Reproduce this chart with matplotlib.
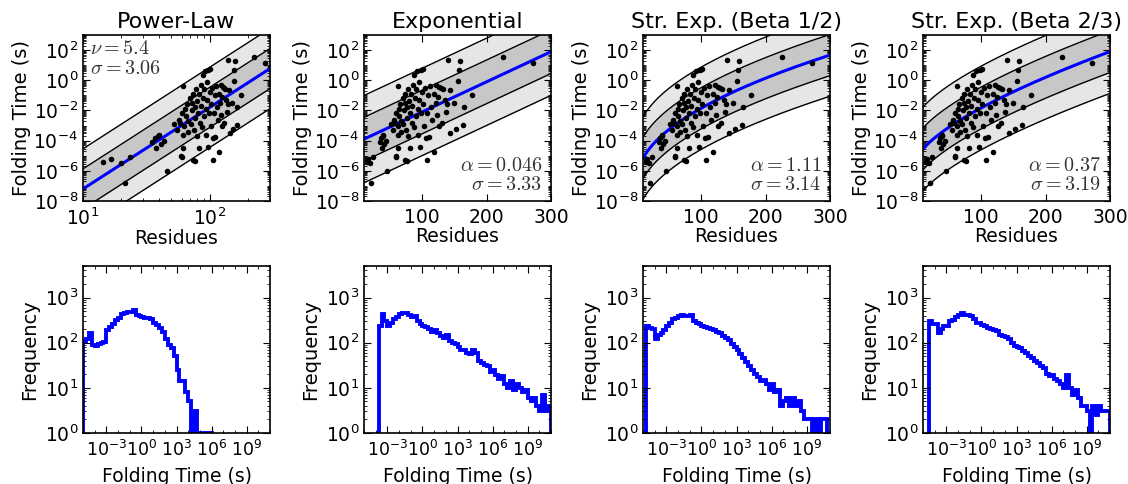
import numpy as np
import matplotlib
matplotlib.use('Agg')
import matplotlib.pyplot as plt
from matplotlib.ticker import FixedLocator, LogLocator, NullFormatter, NullLocator

# measured folding times (log10 of seconds) vs chain length
residues = [16.5, 20, 23.5, 21.5, 14.5,
            35, 37, 39, 40, 41, 38, 44,
            46, 59, 60, 62, 74, 76,
            52, 55, 57, 58, 60, 62, 62, 63, 64, 65, 66, 67, 68, 70, 71, 72, 73, 74,
            75, 76, 77, 78, 79, 80, 81, 82, 83, 84, 85, 86, 87, 88, 89, 90, 91, 92,
            93, 94, 95, 96, 97, 98, 99, 100, 101, 102, 103, 105, 106, 107, 108, 110,
            111, 112, 114, 116, 118, 119, 121, 123, 125, 127, 129, 131, 133, 135,
            141, 159, 225, 272, 157, 156, 177, 165, 152, 164, 144, 150, 143, 139,
            126, 137, 122]
log_fold_time = [-5.2, -5.5, -5.1, -6.8, -5.4,
                 -4.1, -3.8, -3.7, -3.6, -4.2, -4.5, -4.0,
                 -6.0, -5.05, -5.1, -4.5, -5.3, -5.35,
                 -2.9, -3.3, -2.6, -2.8, -2.2, -0.4, -3.6, -3.0, -1.9, -2.4, -1.6, -3.4,
                 -2.7, -1.2, -2.9, -2.0, -1.5, -0.9,
                 -3.3, -1.8, -2.5, -0.6, -3.7, -1.4, -2.2, -4.5, -0.9, -2.8, -1.7, -0.3,
                 -3.1, 0.35, -1.2, -2.4, -0.6, 0.6,
                 -1.9, -3.6, -0.1, -1.3, -4.4, 0.7, -2.2, -0.8, 0.75, -1.6, -3.0, -0.5,
                 -3.85, -5.3, -2.2, -1.0,
                 -3.75, -0.4, -1.8, -2.6, -4.75, -0.9, -1.5, -2.3, -1.1, -0.45, -0.5,
                 -2.8, -0.6, -1.3,
                 1.35, 1.3, 1.55, 1.15, 0.65, -0.05, -1.0, -1.8, -3.2, -2.95, -3.5,
                 -1.5, -0.65, -1.6,
                 -3.0, -2.1, -0.3]

titles = ['Power-Law', 'Exponential', 'Str. Exp. (Beta 1/2)', 'Str. Exp. (Beta 2/3)']
fit_param = [5.4, 0.046, 1.11, 0.37]
fit_sigma = [3.06, 3.33, 3.14, 3.19]
fit_offset = [-12.6, -4.1, -6.68, -5.3]
param_text = [r'$\nu=5.4$', r'$\alpha=0.046$', r'$\alpha=1.11$', r'$\alpha=0.37$']
sigma_text = [r'$\sigma=3.06$', r'$\sigma=3.33$', r'$\sigma=3.14$', r'$\sigma=3.19$']

# histograms of predicted folding times, bins of 0.25 decade from 1e-5 to 1e11
hist_edges = np.arange(-5, 11.01, 0.25)
hist_powerlaw = [110, 120, 160, 90, 85, 95, 100, 105, 190, 220, 260, 320, 360, 440, 450, 470,
                 480, 520, 420, 400, 370, 360, 350, 330, 270, 250, 210, 170, 120, 90, 75, 50,
                 25, 14, 14, 8, 5, 1, 3, 1, 1, 1, 1, 1, 0, 0, 0, 0,
                 0, 0, 0, 0, 0, 0, 0, 0, 0, 0, 0, 0, 0, 0, 0, 0]
hist_exponential = [0, 0, 0, 0, 0, 240, 440, 300, 240, 280, 330, 380, 430, 460, 460, 420,
                    380, 390, 300, 260, 240, 220, 200, 170, 190, 160, 140, 130, 150, 110, 100, 95,
                    80, 70, 68, 60, 55, 70, 60, 40, 35, 32, 30, 22, 25, 19, 16, 18,
                    12, 10, 14, 9, 12, 10, 8, 9, 6, 5, 6, 4, 3, 7, 3, 4]
hist_strexp_half = [0, 230, 210, 200, 120, 150, 160, 190, 240, 280, 330, 360, 400, 410, 390, 400,
                    410, 300, 280, 260, 240, 220, 210, 200, 190, 170, 160, 140, 130, 115, 95, 80,
                    70, 55, 45, 38, 30, 25, 20, 17, 14, 15, 12, 9, 12, 8, 9, 4,
                    5, 6, 4, 6, 4, 5, 3, 2, 2, 2, 1, 2, 1, 2, 2, 0]
hist_strexp_twothirds = [0, 0, 300, 260, 260, 160, 200, 230, 240, 300, 320, 370, 420, 460, 420, 410,
                         400, 330, 280, 270, 250, 230, 210, 200, 190, 180, 150, 140, 135, 120, 100, 85,
                         80, 78, 65, 60, 50, 45, 40, 35, 30, 27, 20, 18, 19, 16, 14, 12,
                         10, 19, 10, 7, 9, 6, 4, 4, 3, 1, 4, 2.5, 4, 3, 3, 3]
hist_counts = [hist_powerlaw, hist_exponential, hist_strexp_half, hist_strexp_twothirds]

plt.rcParams['font.family'] = 'DejaVu Sans'
plt.rcParams['mathtext.fontset'] = 'dejavusans'
plt.rcParams['axes.unicode_minus'] = False
plt.rcParams['xtick.direction'] = 'in'
plt.rcParams['ytick.direction'] = 'in'
plt.rcParams['xtick.top'] = True
plt.rcParams['ytick.right'] = True


def model(k, n):
    if k == 0:
        return fit_param[0] * np.log10(n) + fit_offset[0]
    x = [n, n ** 0.5, n ** (2.0 / 3.0)][k - 1]
    return fit_param[k] / np.log(10) * x + fit_offset[k]


def style_ticks(ax, xsize=13.5):
    ax.tick_params(which='major', length=5, width=0.8, labelsize=13.5)
    ax.tick_params(axis='x', which='major', pad=5, labelsize=xsize)
    ax.tick_params(which='minor', length=2.5, width=0.6)
    for s in ax.spines.values():
        s.set_linewidth(1.2)


fig = plt.figure(figsize=(11.28, 4.84), dpi=100)
W, H = 1128.0, 484.0
lefts = [83, 364, 643, 923]
nn = np.linspace(10, 300, 400)
res = np.array(residues)
lt = np.array(log_fold_time)

for k in range(4):
    # ---- top row: folding time vs residues
    ax = fig.add_axes([lefts[k] / W, (H - 201) / H, 187 / W, 166 / H])
    m = model(k, nn)
    sd = fit_sigma[k] / np.log(10)
    ax.fill_between(nn, 10 ** (m - 2 * sd), 10 ** (m + 2 * sd), color='0.9', lw=0)
    ax.fill_between(nn, 10 ** (m - sd), 10 ** (m + sd), color='0.78', lw=0)
    for j in [-2, -1, 1, 2]:
        ax.plot(nn, 10 ** (m + j * sd), color='k', lw=1)
    ax.plot(nn, 10 ** m, color='#0000ff', lw=2.2)
    ax.plot(res, 10 ** lt, 'o', color='k', ms=4, mec='none')
    ax.set_yscale('log')
    ax.set_ylim(1e-8, 1e3)
    ax.yaxis.set_major_locator(FixedLocator([1e-8, 1e-6, 1e-4, 1e-2, 1e0, 1e2]))
    ax.yaxis.set_minor_locator(LogLocator(base=10, subs=np.arange(1, 10), numticks=100))
    ax.yaxis.set_minor_formatter(NullFormatter())
    if k == 0:
        ax.set_xscale('log')
        ax.set_xlim(10, 300)
        ax.xaxis.set_major_locator(FixedLocator([10, 100]))
        ax.xaxis.set_minor_locator(LogLocator(base=10, subs=np.arange(2, 10), numticks=100))
        ax.xaxis.set_minor_formatter(NullFormatter())
        ax.text(0.035, 0.975, param_text[k] + '\n' + sigma_text[k], transform=ax.transAxes,
                ha='left', va='top', fontsize=14.5, color='0.2', math_fontfamily='cm',
                linespacing=1.05)
    else:
        ax.set_xlim(10, 300)
        ax.xaxis.set_major_locator(FixedLocator([100, 200, 300]))
        ax.xaxis.set_minor_locator(NullLocator())
        ax.text(0.955, 0.04, param_text[k] + '\n' + sigma_text[k], transform=ax.transAxes,
                ha='right', va='bottom', fontsize=14.5, color='0.2', math_fontfamily='cm',
                linespacing=1.05)
    style_ticks(ax)
    ax.set_title(titles[k], fontsize=16, pad=5)
    ax.set_xlabel('Residues', fontsize=13.5, labelpad=0)
    ax.set_ylabel('Folding Time (s)', fontsize=14, labelpad=2)

    # ---- bottom row: histogram of folding times
    bx = fig.add_axes([lefts[k] / W, (H - 433) / H, 187 / W, 167 / H])
    counts = np.array(hist_counts[k], dtype=float)
    counts[counts <= 0] = 1e-3
    bx.stairs(counts, 10 ** hist_edges, baseline=1e-3, color='#0000ff', lw=2.8)
    bx.set_xscale('log')
    bx.set_yscale('log')
    bx.set_xlim(1e-5, 1e11)
    bx.set_ylim(1, 5000)
    bx.xaxis.set_major_locator(FixedLocator([1e-3, 1e0, 1e3, 1e6, 1e9]))
    bx.xaxis.set_minor_locator(LogLocator(base=10, subs=(1.0,), numticks=100))
    bx.xaxis.set_minor_formatter(NullFormatter())
    bx.yaxis.set_major_locator(FixedLocator([1, 10, 100, 1000]))
    bx.yaxis.set_minor_locator(LogLocator(base=10, subs=np.arange(2, 10), numticks=100))
    bx.yaxis.set_minor_formatter(NullFormatter())
    style_ticks(bx, xsize=12.5)
    bx.set_xlabel('Folding Time (s)', fontsize=13.5, labelpad=5)
    bx.set_ylabel('Frequency', fontsize=14, labelpad=4)

fig.savefig('out.png', dpi=100)
